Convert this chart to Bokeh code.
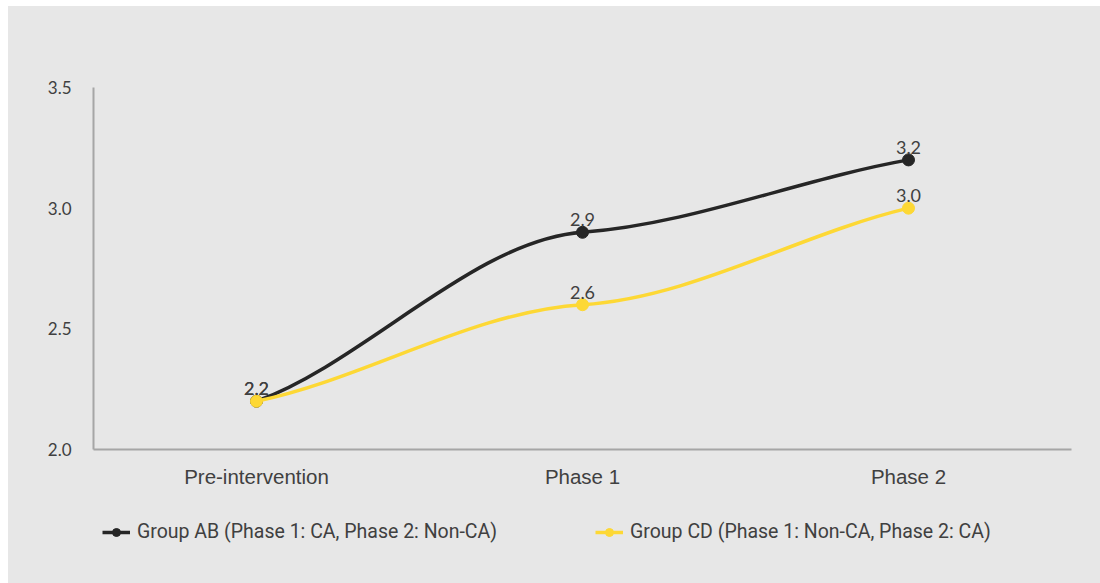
from bokeh.plotting import figure
from bokeh.models import (FactorRange, Range1d, FixedTicker, Legend, LegendItem,
                          ColumnDataSource, Spacer, NumeralTickFormatter)
from bokeh.layouts import column, row
from bokeh.core.properties import value
from bokeh.embed import file_html
from bokeh.resources import INLINE

# ---- data ----
categories = ["Pre-intervention", "Phase 1", "Phase 2"]
group_ab = [2.2, 2.9, 3.2]
group_cd = [2.2, 2.6, 3.0]
series_names = ["Group AB (Phase 1: CA, Phase 2: Non-CA)",
                "Group CD (Phase 1: Non-CA, Phase 2: CA)"]
y_ticks = [2.0, 2.5, 3.0, 3.5]

BG = "#e7e7e7"
TEXT = "#404040"
colors = ["#262626", "#fdd835"]

p = figure(x_range=FactorRange(*categories, range_padding=0),
           y_range=Range1d(2.0, 3.5),
           width=1092, height=500, output_backend="svg", toolbar_location=None,
           background_fill_alpha=0, border_fill_alpha=0,
           min_border_left=85, min_border_right=29, min_border_top=81,
           min_border_bottom=57, outline_line_color=None)
p.xgrid.visible = False
p.ygrid.visible = False

# axes styling
for ax in (p.xaxis, p.yaxis):
    ax.axis_line_color = "#a6a6a6"
    ax.axis_line_width = 2
    ax.major_tick_line_color = None
    ax.minor_tick_line_color = None
    ax.major_label_text_color = TEXT
p.xaxis.major_label_text_font = "Liberation Sans"
p.xaxis.major_label_text_font_size = "20.5px"
p.xaxis.major_label_standoff = 9
p.yaxis.ticker = FixedTicker(ticks=y_ticks)
p.yaxis.formatter = NumeralTickFormatter(format="0.0")
p.yaxis.major_label_text_font = "Lato"
p.yaxis.major_label_text_font_size = "17px"
p.yaxis.major_label_standoff = 16


def smooth_segments(vals):
    """Cubic Bezier segments through the data points (rendering of a smoothed line)."""
    n = len(vals)
    xs = [i + 0.5 for i in range(n)]  # synthetic category centres
    tang = []
    for i in range(n):
        if i == 0:
            m = 0.7 * (vals[1] - vals[0])
        elif i == n - 1:
            m = 0.8 * (vals[-1] - vals[-2])
        else:
            m = 0.2 * (vals[i + 1] - vals[i - 1]) / 2
        tang.append(m)
    seg = dict(x0=[], y0=[], x1=[], y1=[], cx0=[], cy0=[], cx1=[], cy1=[])
    for i in range(n - 1):
        dx = xs[i + 1] - xs[i]
        seg["x0"].append(xs[i]); seg["y0"].append(vals[i])
        seg["x1"].append(xs[i + 1]); seg["y1"].append(vals[i + 1])
        seg["cx0"].append(xs[i] + dx / 3); seg["cy0"].append(vals[i] + tang[i] * dx / 3)
        seg["cx1"].append(xs[i + 1] - dx / 3); seg["cy1"].append(vals[i + 1] - tang[i + 1] * dx / 3)
    return seg


for vals, col in zip([group_ab, group_cd], colors):
    src = ColumnDataSource(smooth_segments(vals))
    p.bezier(x0="x0", y0="y0", x1="x1", y1="y1", cx0="cx0", cy0="cy0",
             cx1="cx1", cy1="cy1", source=src, line_color=col, line_width=3.5)
    p.scatter(x=categories, y=vals, size=12, marker="circle",
              fill_color=col, line_color=col)
    p.text(x=categories, y=vals, text=[f"{v:.1f}" for v in vals],
           text_align="center", text_baseline="bottom", y_offset=-6,
           text_font=value("Lato"), text_font_size="18px", text_color=TEXT)

# ---- legend strip (separate figure below the chart) ----
pleg = figure(width=1092, height=77, output_backend="svg", toolbar_location=None,
              x_range=FactorRange(*categories), y_range=Range1d(2.0, 3.5),
              x_axis_location=None, y_axis_location=None,
              background_fill_alpha=0, border_fill_alpha=0,
              min_border=0, outline_line_color=None)
pleg.grid.visible = False
items = []
for vals, col, name in zip([group_ab, group_cd], colors, series_names):
    ln = pleg.line(x=categories, y=vals, line_color=col, line_width=3.5, visible=False)
    sc = pleg.scatter(x=categories, y=vals, size=12, marker="circle",
                      fill_color=col, line_color=col, visible=False)
    items.append(LegendItem(label=name, renderers=[ln, sc], index=0))

legend = Legend(items=items, orientation="horizontal", location=(9, 40),
                background_fill_alpha=0, border_line_color=None,
                label_text_font="Roboto", label_text_font_size="19.5px",
                label_text_color=TEXT, glyph_width=28, glyph_height=20,
                label_standoff=7, spacing=98, padding=0, margin=0)
pleg.add_layout(legend, "center")

inner = column(p, pleg, styles={"background-color": BG})
layout = column(Spacer(height=6), row(Spacer(width=8), inner))
open("out.html", "w").write(file_html(layout, INLINE))
